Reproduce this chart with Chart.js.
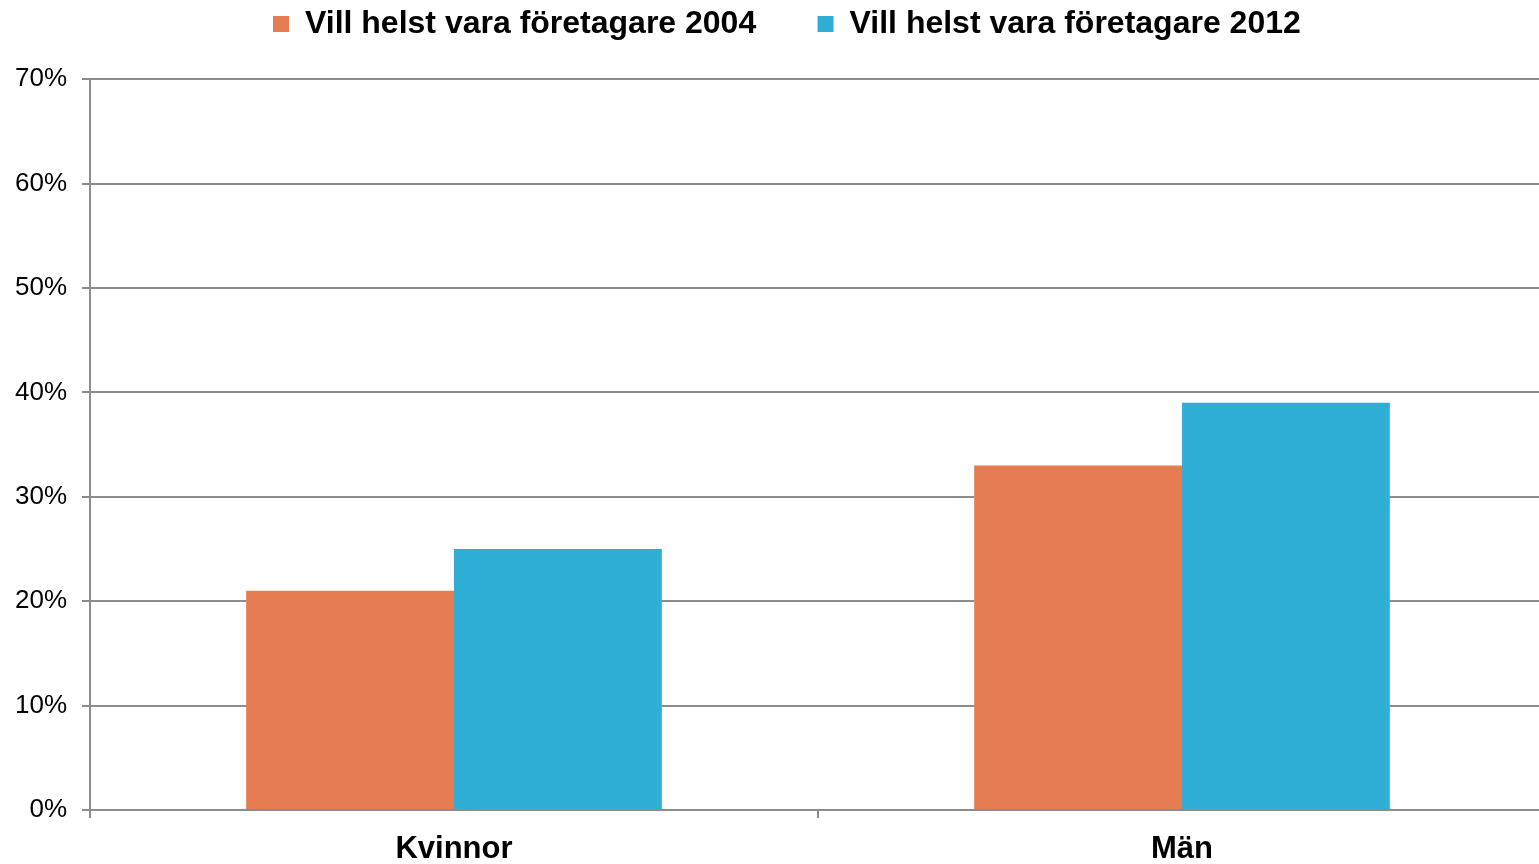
<!DOCTYPE html>
<html>
<head>
<meta charset="utf-8">
<script src="https://cdn.jsdelivr.net/npm/chart.js@4"></script>
<style>
    html, body { margin: 0; padding: 0; background: #fff; overflow: hidden; }
    /* plot runs a little past the right edge of the window, as in the original */
    #wrap { width: 1546px; height: 864px; }
</style>
</head>
<body>
<div id="wrap"><canvas id="chart"></canvas></div>
<script>
const categories = ["Kvinnor", "Män"];
const seriesNames = ["Vill helst vara företagare 2004", "Vill helst vara företagare 2012"];
const values2004 = [21, 33];
const values2012 = [25, 39];
const yTicks = [0, 10, 20, 30, 40, 50, 60, 70];

const gridColor = "#8c8c8c";
// spaces after legend text to get the wide gap between items
const legendTail = ["      ", "       "];

Chart.defaults.font.family = "'Liberation Sans', Arial, sans-serif";
Chart.defaults.color = "#000";

new Chart(document.getElementById("chart").getContext("2d"), {
    type: "bar",
    data: {
        labels: categories,
        datasets: [{
            label: seriesNames[0],
            data: values2004,
            backgroundColor: "#e67c51",
        }, {
            label: seriesNames[1],
            data: values2012,
            backgroundColor: "#2fafd6",
        }]
    },
    options: {
        responsive: true,
        maintainAspectRatio: false,
        animation: false,
        layout: { padding: 0 },
        datasets: { bar: { categoryPercentage: 0.571, barPercentage: 1 } },
        plugins: {
            tooltip: { enabled: false },
            legend: {
                position: "top",
                fullSize: false,
                labels: {
                    boxWidth: 16,
                    boxHeight: 16,
                    padding: 8,
                    font: { size: 32, weight: "bold" },
                    generateLabels(chart) {
                        const items = Chart.defaults.plugins.legend.labels.generateLabels(chart);
                        items.forEach((it, i) => { it.text = it.text + legendTail[i]; });
                        return items;
                    }
                }
            },
            // empty title used as a spacer between legend and plot
            title: {
                display: true,
                text: "",
                weight: 500,
                font: { size: 1 },
                padding: { top: 14, bottom: 14 }
            }
        },
        scales: {
            x: {
                z: 1,
                grid: { display: true, drawOnChartArea: false, color: gridColor, lineWidth: 2, tickLength: 8 },
                border: { display: true, color: gridColor, width: 2 },
                ticks: { font: { size: 31, weight: "bold" }, padding: 13, maxRotation: 0 },
                afterFit(scale) { scale.height = 54; }
            },
            y: {
                min: yTicks[0],
                max: yTicks[yTicks.length - 1],
                grid: { color: gridColor, lineWidth: 2, tickLength: 8 },
                border: { display: true, color: gridColor, width: 2 },
                ticks: {
                    stepSize: 10,
                    font: { size: 26 },
                    padding: 15,
                    callback: (v) => v + "%"
                },
                afterBuildTicks(scale) { scale.ticks = yTicks.map(v => ({ value: v })); },
                afterFit(scale) { scale.width = 90; }
            }
        }
    }
});
</script>
</body>
</html>
